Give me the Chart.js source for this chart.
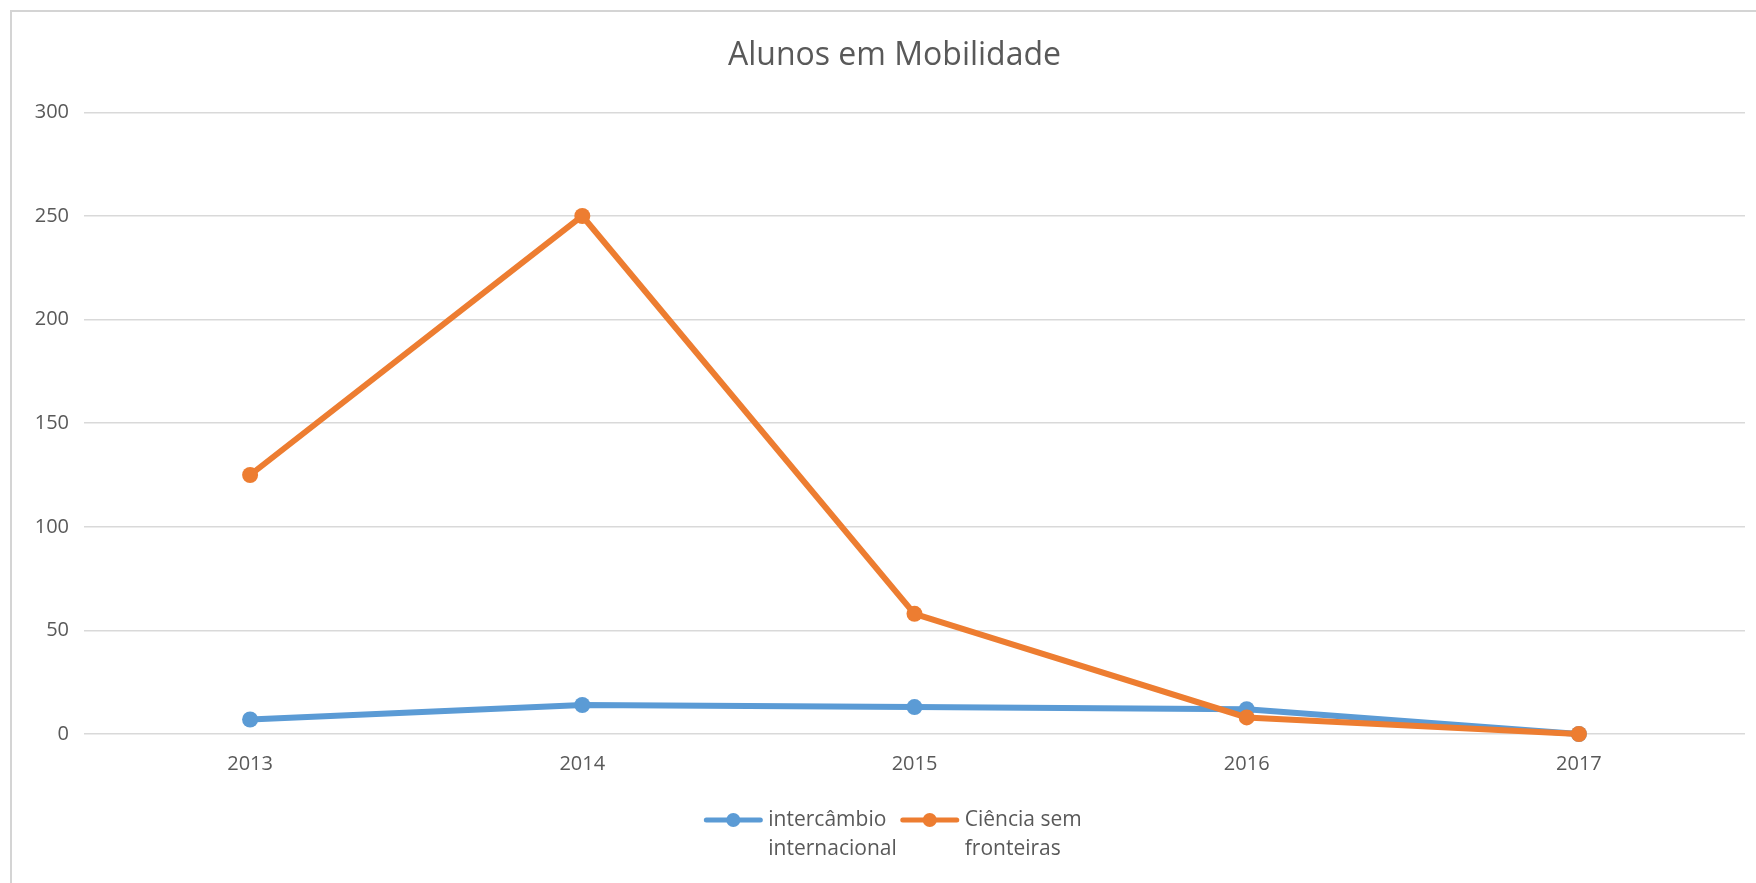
<!DOCTYPE html>
<html>
<head>
<meta charset="utf-8">
<script src="https://cdn.jsdelivr.net/npm/chart.js@4"></script>
<style>
  html, body { margin: 0; padding: 0; background: #fff; overflow: hidden; }
  /* the original chart frame is wider than the picture, it runs off the right edge */
  #wrap { width: 1800px; height: 883px; position: relative; }
</style>
</head>
<body>
<div id="wrap"><canvas id="chart"></canvas></div>
<script>
// ── DATA ──
const years = ['2013', '2014', '2015', '2016', '2017'];
const intercambio = [7, 14, 13, 12, 0];
const cienciaSemFronteiras = [125, 250, 58, 8, 0];
const seriesNames = [['intercâmbio', 'internacional'], ['Ciência sem', 'fronteiras']];
const yMax = 300;
const yStep = 50;

const BLUE = '#5B9BD5';
const ORANGE = '#ED7D31';
const TEXT = '#595959';
const GRID = '#d9d9d9';
const FONT = "'Open Sans', 'Noto Sans', sans-serif";

const PAD_RIGHT = 11;

// light frame around the chart, running off the right/bottom edge
const framePlugin = {
    id: 'frame',
    beforeDraw(chart) {
        const c = chart.ctx;
        c.save();
        c.fillStyle = '#fff';
        c.fillRect(0, 0, chart.width, chart.height);
        c.strokeStyle = '#d4d4d4';
        c.lineWidth = 2;
        c.strokeRect(11, 11, chart.width + 20, chart.height + 20);
        c.restore();
    }
};

// ── LEGEND (two-line labels, drawn under the axis) ──
const legendPlugin = {
    id: 'twoLineLegend',
    afterDraw(chart) {
        const c = chart.ctx;
        const size = 21, lineH = 29, symW = 60, gap = 5, itemGap = 3;
        c.save();
        c.font = size + 'px ' + FONT;
        const widths = seriesNames.map(lines => Math.max(...lines.map(l => c.measureText(l).width)));
        const total = widths.reduce((a, w) => a + symW + gap + w, 0) + itemGap * (widths.length - 1);
        const centre = (chart.width - PAD_RIGHT) / 2;
        let x = centre - total / 2 - 2;
        const y0 = chart.chartArea.bottom + 86;
        chart.data.datasets.forEach((ds, i) => {
            const color = ds.borderColor;
            c.strokeStyle = color;
            c.fillStyle = color;
            c.lineWidth = 5;
            c.lineCap = 'round';
            c.beginPath();
            c.moveTo(x + 3, y0);
            c.lineTo(x + symW - 3, y0);
            c.stroke();
            c.beginPath();
            c.arc(x + symW / 2, y0, 7, 0, Math.PI * 2);
            c.fill();
            c.fillStyle = TEXT;
            c.textBaseline = 'middle';
            c.textAlign = 'left';
            seriesNames[i].forEach((line, k) => {
                c.fillText(line, x + symW + gap, y0 + k * lineH);
            });
            x += symW + gap + widths[i] + itemGap;
        });
        c.restore();
    }
};

const ctx = document.getElementById('chart').getContext('2d');
new Chart(ctx, {
    type: 'line',
    data: {
        labels: years,
        datasets: [
            {
                label: seriesNames[0].join(' '),
                data: intercambio,
                borderColor: BLUE,
                backgroundColor: BLUE,
                borderWidth: 6,
                pointRadius: 8,
                pointHoverRadius: 8,
                pointBorderWidth: 0,
                clip: false,
                order: 1
            },
            {
                label: seriesNames[1].join(' '),
                data: cienciaSemFronteiras,
                borderColor: ORANGE,
                backgroundColor: ORANGE,
                borderWidth: 6,
                pointRadius: 8,
                pointHoverRadius: 8,
                pointBorderWidth: 0,
                clip: false,
                order: 0
            }
        ]
    },
    options: {
        responsive: true,
        maintainAspectRatio: false,
        animation: false,
        layout: { padding: { left: 0, right: PAD_RIGHT, top: 0, bottom: 87 } },
        scales: {
            x: {
                offset: true,
                grid: { display: false },
                border: { display: false },
                ticks: { color: TEXT, font: { family: FONT, size: 20 }, padding: 10 },
                afterFit(scale) { scale.height = 62; }
            },
            y: {
                min: 0,
                max: yMax,
                grid: { color: GRID, lineWidth: 1.5, drawTicks: false },
                border: { display: false },
                ticks: { stepSize: yStep, color: TEXT, font: { family: FONT, size: 20 }, padding: 15 },
                afterFit(scale) { scale.width = 84; }
            },
            // empty strip on the right: keeps the plot inside the visible picture
            yRight: {
                type: 'linear',
                position: 'right',
                grid: { display: false, drawTicks: false },
                border: { display: false },
                ticks: { display: false },
                afterFit(scale) { scale.width = 44; }
            }
        },
        plugins: {
            title: {
                display: true,
                text: 'Alunos em Mobilidade',
                color: TEXT,
                font: { family: FONT, size: 32, weight: 'normal' },
                padding: { top: 37, bottom: 37 }
            },
            legend: { display: false },
            tooltip: { enabled: false }
        }
    },
    plugins: [framePlugin, legendPlugin]
});
</script>
</body>
</html>
